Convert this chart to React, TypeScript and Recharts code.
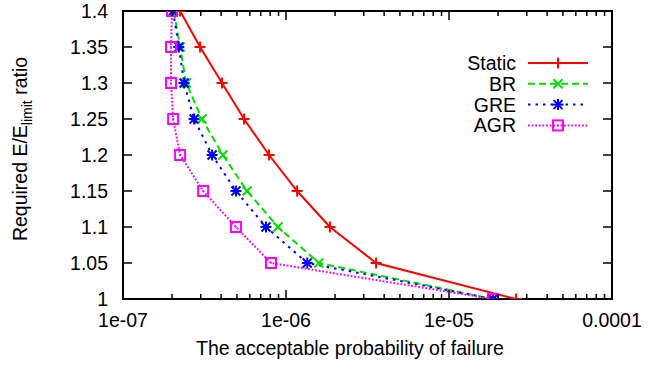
import React from "react";
import {
  ComposedChart,
  Line,
  XAxis,
  YAxis,
  ReferenceArea,
  Legend,
} from "recharts";

const W = 659;
const H = 368;
const PLOT_LEFT = 123;
const PLOT_RIGHT = 612;
const PLOT_TOP = 11;
const PLOT_BOTTOM = 299;
const FONT = '"Liberation Sans", Arial, Helvetica, sans-serif';
const FS = 19.5;

// required ratio levels (shared by every series)
const ratioLevels = [1.4, 1.35, 1.3, 1.25, 1.2, 1.15, 1.1, 1.05, 1.0];

// acceptable probability of failure for each ratio level
const staticProb = [2.24e-7, 2.97e-7, 4.05e-7, 5.53e-7, 7.87e-7, 1.17e-6, 1.86e-6, 3.57e-6, 2.58e-5];
const brProb = [2.05e-7, 2.24e-7, 2.44e-7, 3.05e-7, 4.1e-7, 5.77e-7, 8.93e-7, 1.59e-6, 1.86e-5];
const greProb = [2.03e-7, 2.2e-7, 2.37e-7, 2.73e-7, 3.52e-7, 4.93e-7, 7.54e-7, 1.35e-6, 1.86e-5];
const agrProb = [2.0e-7, 1.97e-7, 1.97e-7, 2.03e-7, 2.24e-7, 3.1e-7, 4.93e-7, 8.09e-7, 1.86e-5];

const yTicks = [1, 1.05, 1.1, 1.15, 1.2, 1.25, 1.3, 1.35, 1.4];
const xMajorTicks = [1e-7, 1e-6, 1e-5, 1e-4];
const xMajorLabels = ["1e-07", "1e-06", "1e-05", "0.0001"];
const xMinorSteps = [2, 3, 4, 5, 6, 7, 8, 9];

const xTicks: number[] = [];
xMajorTicks.forEach((m, i) => {
  xTicks.push(m);
  if (i < xMajorTicks.length - 1) xMinorSteps.forEach((k) => xTicks.push(k * m));
});

type MarkerKind = "plus" | "cross" | "star" | "square";

const toPoints = (xs: number[]) => xs.map((x, i) => ({ x, y: ratioLevels[i] }));

const SERIES = [
  { name: "Static", color: "#ff0000", dash: undefined, marker: "plus" as MarkerKind, data: toPoints(staticProb) },
  { name: "BR", color: "#00e000", dash: "7 4", marker: "cross" as MarkerKind, data: toPoints(brProb) },
  { name: "GRE", color: "#0000ff", dash: "2.5 5", marker: "star" as MarkerKind, data: toPoints(greProb) },
  { name: "AGR", color: "#ff00ff", dash: "1.8 1.8", marker: "square" as MarkerKind, data: toPoints(agrProb) },
];

function Marker({ kind, cx, cy, color }: { kind: MarkerKind; cx: number; cy: number; color: string }) {
  const s = 5.5;
  const c = 4.5;
  const sq = 5;
  const common = { stroke: color, strokeWidth: 2, fill: "none" };
  if (kind === "plus") {
    return (
      <g {...common}>
        <line x1={cx - s} y1={cy} x2={cx + s} y2={cy} />
        <line x1={cx} y1={cy - s} x2={cx} y2={cy + s} />
      </g>
    );
  }
  if (kind === "cross") {
    return (
      <g {...common}>
        <line x1={cx - c} y1={cy - c} x2={cx + c} y2={cy + c} />
        <line x1={cx - c} y1={cy + c} x2={cx + c} y2={cy - c} />
      </g>
    );
  }
  if (kind === "star") {
    return (
      <g {...common}>
        <line x1={cx - s} y1={cy} x2={cx + s} y2={cy} />
        <line x1={cx} y1={cy - s} x2={cx} y2={cy + s} />
        <line x1={cx - c} y1={cy - c} x2={cx + c} y2={cy + c} />
        <line x1={cx - c} y1={cy + c} x2={cx + c} y2={cy - c} />
      </g>
    );
  }
  return (
    <g>
      <rect x={cx - sq} y={cy - sq} width={sq * 2} height={sq * 2} {...common} />
      <rect x={cx - 0.8} y={cy - 0.8} width={1.6} height={1.6} fill={color} />
    </g>
  );
}

const XTick = (props: any) => {
  const { x, payload } = props;
  const v = payload.value;
  const idx = xMajorTicks.findIndex((m) => Math.abs(m - v) / m < 1e-6);
  const len = idx >= 0 ? 9 : 5;
  return (
    <g>
      <line x1={x} y1={PLOT_BOTTOM} x2={x} y2={PLOT_BOTTOM - len} stroke="#000" strokeWidth={1.5} />
      <line x1={x} y1={PLOT_TOP} x2={x} y2={PLOT_TOP + len} stroke="#000" strokeWidth={1.5} />
      {idx >= 0 && (
        <text x={x} y={PLOT_BOTTOM + 28} textAnchor="middle" fontSize={FS} fontFamily={FONT} fill="#000">
          {xMajorLabels[idx]}
        </text>
      )}
    </g>
  );
};

const YTick = (props: any) => {
  const { y, payload } = props;
  return (
    <g>
      <line x1={PLOT_LEFT} y1={y} x2={PLOT_LEFT + 9} y2={y} stroke="#000" strokeWidth={1.5} />
      <line x1={PLOT_RIGHT} y1={y} x2={PLOT_RIGHT - 9} y2={y} stroke="#000" strokeWidth={1.5} />
      <text x={PLOT_LEFT - 15} y={y + 7} textAnchor="end" fontSize={FS} fontFamily={FONT} fill="#000">
        {String(payload.value)}
      </text>
    </g>
  );
};

const LegendBox = () => (
  <svg width={200} height={100} style={{ overflow: "visible" }}>
    {SERIES.map((s, i) => {
      const cy = 18 + i * 20.8;
      return (
        <g key={s.name}>
          <text x={116} y={cy + 7} textAnchor="end" fontSize={FS} fontFamily={FONT} fill="#000">
            {s.name}
          </text>
          <line x1={128} y1={cy} x2={188} y2={cy} stroke={s.color} strokeWidth={2} strokeDasharray={s.dash} />
          <Marker kind={s.marker} cx={158} cy={cy} color={s.color} />
        </g>
      );
    })}
  </svg>
);

export default function App() {
  return (
    <div style={{ position: "absolute", left: 0, top: 0, width: W, height: H, background: "#fff" }}>
      <ComposedChart
        width={W}
        height={H}
        margin={{ top: PLOT_TOP, right: W - PLOT_RIGHT, bottom: H - PLOT_BOTTOM - 40, left: 0 }}
      >
        <XAxis
          type="number"
          dataKey="x"
          scale="log"
          domain={[1e-7, 1e-4]}
          allowDataOverflow
          ticks={xTicks}
          interval={0}
          tick={<XTick />}
          tickLine={false}
          axisLine={false}
          height={40}
        />
        <YAxis
          type="number"
          dataKey="y"
          domain={[1, 1.4]}
          allowDataOverflow
          ticks={yTicks}
          interval={0}
          tick={<YTick />}
          tickLine={false}
          axisLine={false}
          width={PLOT_LEFT}
        />
        <ReferenceArea
          x1={1e-7}
          x2={1e-4}
          y1={1}
          y2={1.4}
          fill="none"
          fillOpacity={0}
          stroke="#000"
          strokeWidth={2}
          ifOverflow="visible"
        />
        {SERIES.map((s) => (
          <Line
            key={s.name}
            data={s.data}
            dataKey="y"
            name={s.name}
            type="linear"
            stroke={s.color}
            strokeWidth={2}
            strokeDasharray={s.dash}
            isAnimationActive={false}
            dot={(p: any) => <Marker key={`${s.name}-${p.index}`} kind={s.marker} cx={p.cx} cy={p.cy} color={s.color} />}
            activeDot={false}
          />
        ))}
        <Legend
          layout="horizontal"
          verticalAlign="middle"
          align="center"
          content={<LegendBox />}
          wrapperStyle={{ position: "absolute", left: 400, top: 45, width: 200, height: 100 }}
        />
      </ComposedChart>
      <svg width={W} height={H} style={{ position: "absolute", left: 0, top: 0, pointerEvents: "none" }}>
        <text
          x={27}
          y={149}
          transform="rotate(-90, 27, 149)"
          textAnchor="middle"
          fontSize={FS}
          fontFamily={FONT}
          fill="#000"
        >
          Required E/E
          <tspan fontSize={14} dy={5}>limit</tspan>
          <tspan dy={-5}> ratio</tspan>
        </text>
        <text x={350} y={355} textAnchor="middle" fontSize={FS} fontFamily={FONT} fill="#000">
          The acceptable probability of failure
        </text>
      </svg>
    </div>
  );
}
